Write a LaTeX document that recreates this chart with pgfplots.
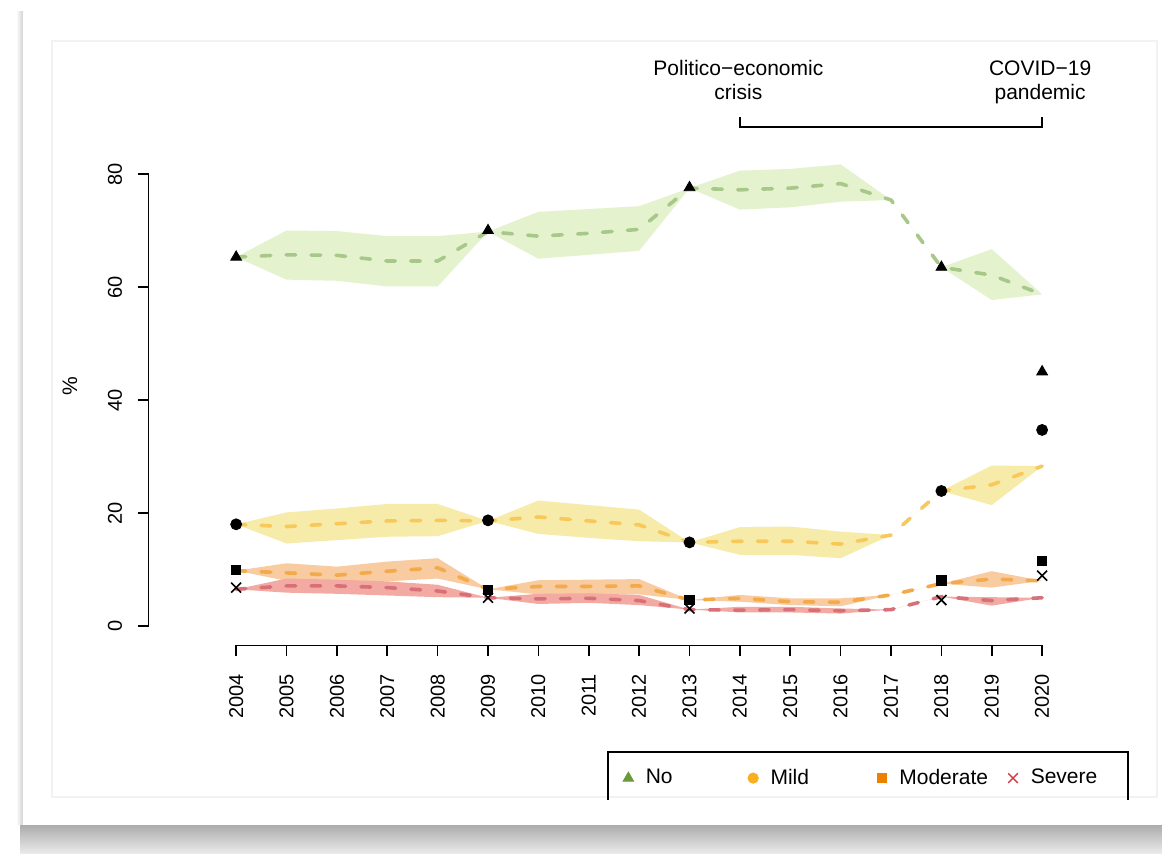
\documentclass[border=0pt]{standalone}
\usepackage{fontspec}
\setmainfont{Liberation Sans}
\usepackage{pgfplots}
\pgfplotsset{compat=1.18}
\usepackage{pgfplotstable}
\usepgfplotslibrary{fillbetween}

\definecolor{bandG}{RGB}{228,242,206}
\definecolor{bandY}{RGB}{247,235,170}
\definecolor{bandO}{RGB}{249,203,160}
\definecolor{bandR}{RGB}{243,170,162}
\definecolor{lineG}{RGB}{168,200,138}
\definecolor{lineY}{RGB}{248,200,90}
\definecolor{lineO}{RGB}{243,170,75}
\definecolor{lineR}{RGB}{215,112,120}
\definecolor{colG}{RGB}{107,154,60}
\definecolor{colY}{RGB}{250,176,30}
\definecolor{colO}{RGB}{238,128,0}
\definecolor{colR}{RGB}{210,60,70}

\pgfplotstableread{
year m lo hi
2004 65.3 65.3 65.3
2005 65.7 61.3 70.0
2006 65.6 61.1 69.9
2007 64.6 60.1 69.0
2008 64.6 60.1 69.0
2009 69.8 69.8 69.8
2010 69.0 65.0 73.3
2011 69.5 65.7 73.8
2012 70.2 66.4 74.3
2013 77.5 77.5 77.5
2014 77.2 73.7 80.6
2015 77.5 74.1 80.9
2016 78.3 75.1 81.7
2017 75.4 75.4 75.4
2018 63.5 63.5 63.5
2019 62.1 57.7 66.7
2020 58.7 58.7 58.7
}\tno

\pgfplotstableread{
year m lo hi
2004 18.0 18.0 18.0
2005 17.6 14.6 20.1
2006 18.1 15.2 20.8
2007 18.6 15.8 21.6
2008 18.7 15.9 21.6
2009 18.6 18.6 18.6
2010 19.3 16.3 22.2
2011 18.6 15.6 21.4
2012 17.9 15.0 20.6
2013 14.8 14.8 14.8
2014 15.0 12.6 17.5
2015 15.0 12.6 17.6
2016 14.5 12.0 16.7
2017 16.1 16.1 16.1
2018 23.9 23.9 23.9
2019 25.0 21.4 28.4
2020 28.3 28.3 28.3
}\tmild

\pgfplotstableread{
year m lo hi
2004 9.8 9.8 9.8
2005 9.4 8.0 11.1
2006 9.0 7.8 10.5
2007 9.7 7.9 11.4
2008 10.3 8.4 12.0
2009 6.5 6.5 6.5
2010 7.0 5.6 8.1
2011 7.0 5.6 8.2
2012 7.1 5.6 8.3
2013 4.6 4.6 4.6
2014 4.9 4.3 5.5
2015 4.3 3.7 4.9
2016 4.2 3.5 4.9
2017 5.5 5.5 5.5
2018 7.5 7.5 7.5
2019 8.3 6.8 9.7
2020 8.0 8.0 8.0
}\tmod

\pgfplotstableread{
year m lo hi
2004 6.5 6.5 6.5
2005 7.1 5.9 8.4
2006 7.1 5.7 8.2
2007 6.8 5.4 7.9
2008 6.2 5.1 7.3
2009 5.0 5.0 5.0
2010 4.8 3.9 5.7
2011 4.9 4.1 5.8
2012 4.5 3.7 5.5
2013 2.9 2.9 2.9
2014 2.8 2.4 3.4
2015 2.9 2.4 3.4
2016 2.7 2.2 3.1
2017 2.9 2.9 2.9
2018 5.2 5.2 5.2
2019 4.5 3.6 5.1
2020 5.0 5.0 5.0
}\tsev

\pgfplotstableread{
year no mild mod sev
2004 65.3 18.0 9.9 6.8
2009 70.0 18.7 6.4 5.0
2013 77.6 14.8 4.6 3.1
2018 63.5 23.9 8.1 4.6
2020 45.0 34.7 11.5 8.9
}\tpts

\tikzset{dashln/.style={line width=1.8pt, dash pattern=on 4.8pt off 7.7pt, line cap=round}}

\begin{document}
\fontsize{10.5}{12.5}\selectfont
\begin{tikzpicture}
% card and shadow
\shade[top color=gray!65, bottom color=gray!15] (10pt,-412.5pt) rectangle (581pt,-427pt);
\shade[left color=white, right color=gray!35] (8pt,-6pt) rectangle (11.5pt,-412.5pt);
\fill[white] (11.5pt,-6pt) rectangle (581pt,-412.5pt);
\draw[gray!10, line width=0.6pt] (26pt,-20.5pt) rectangle (578.5pt,-398.5pt);

\begin{axis}[
  scale only axis, width=472pt, height=280.95pt,
  at={(74.25pt,-322.75pt)}, anchor=south west,
  xmin=2002.26, xmax=2021, ymin=-3.45, ymax=96,
  clip=false,
  axis x line*=bottom, axis y line*=left,
  axis line style={draw=none},
  tick align=outside, major tick length=5.5pt,
  xtick={2004,...,2020}, ytick={0,20,...,80},
  ticklabel style={font=\fontsize{10}{12}\selectfont},
  xticklabel style={rotate=90, anchor=east, xshift=-5pt},
  yticklabel style={rotate=90, anchor=south, yshift=4pt},
  /pgf/number format/1000 sep={},
  /pgf/number format/assume math mode=true,
  legend columns=4,
  legend image code/.code={\path (-6pt,0pt) (8.5pt,0pt); \draw[#1] plot coordinates {(0pt,0pt)};},
  legend style={draw=none, fill=none, inner sep=0pt, outer sep=0pt,
    nodes={inner sep=0pt},
    /tikz/every even column/.append style={column sep=0pt},
    at={(0.4952,-0.236)}, anchor=west},
]
% bands
\addplot[draw=none, name path=nh, forget plot] table[x=year,y=hi]{\tno};
\addplot[draw=none, name path=nl, forget plot] table[x=year,y=lo]{\tno};
\addplot[fill=bandG, draw=none, forget plot] fill between[of=nh and nl, on layer=main];
\addplot[lineG, dashln, forget plot] table[x=year,y=m]{\tno};

\addplot[draw=none, name path=mh, forget plot] table[x=year,y=hi]{\tmild};
\addplot[draw=none, name path=ml, forget plot] table[x=year,y=lo]{\tmild};
\addplot[fill=bandY, draw=none, forget plot] fill between[of=mh and ml, on layer=main];
\addplot[lineY, dashln, forget plot] table[x=year,y=m]{\tmild};

\addplot[draw=none, name path=oh, forget plot] table[x=year,y=hi]{\tmod};
\addplot[draw=none, name path=ol, forget plot] table[x=year,y=lo]{\tmod};
\addplot[fill=bandO, draw=none, forget plot] fill between[of=oh and ol, on layer=main];
\addplot[lineO, dashln, forget plot] table[x=year,y=m]{\tmod};

\addplot[draw=none, name path=sh, forget plot] table[x=year,y=hi]{\tsev};
\addplot[draw=none, name path=sl, forget plot] table[x=year,y=lo]{\tsev};
\addplot[fill=bandR, draw=none, forget plot] fill between[of=sh and sl, on layer=main];
\addplot[lineR, dashln, forget plot] table[x=year,y=m]{\tsev};

% point estimates
\addplot[only marks, mark=triangle*, mark size=3.1pt, black, forget plot] table[x=year,y=no]{\tpts};
\addplot[only marks, mark=*, mark size=2.75pt, black, forget plot] table[x=year,y=mild]{\tpts};
\addplot[only marks, mark=square*, mark size=2.35pt, black, forget plot] table[x=year,y=mod]{\tpts};
\addplot[only marks, mark=x, mark size=3.5pt, black, line width=0.8pt, forget plot] table[x=year,y=sev]{\tpts};

% legend
\addlegendimage{mark=triangle*, mark size=3pt, colG}
\addlegendentry{\makebox[47.5pt][l]{No}}
\addlegendimage{mark=*, mark size=2.6pt, colY}
\addlegendentry{\makebox[49.5pt][l]{Mild}}
\addlegendimage{mark=square*, mark size=2.3pt, colO}
\addlegendentry{\makebox[50.5pt][l]{Moderate}}
\addlegendimage{mark=x, mark size=3.4pt, colR, line width=0.7pt}
\addlegendentry{Severe}

% axis lines and ticks (R style)
\draw[line width=0.9pt] (axis cs:2004,-3.45) -- (axis cs:2020,-3.45);
\draw[line width=0.9pt] (axis cs:2002.26,0) -- (axis cs:2002.26,80);
\pgfplotsinvokeforeach{2004,2005,2006,2007,2008,2009,2010,2011,2012,2013,2014,2015,2016,2017,2018,2019,2020}{
  \draw[line width=0.8pt] (axis cs:#1,-3.45) -- ++(0pt,-5.5pt);
}
\pgfplotsinvokeforeach{0,20,40,60,80}{
  \draw[line width=0.8pt] (axis cs:2002.26,#1) -- ++(-5.5pt,0pt);
}
\node[rotate=90] at (axis cs:2000.7,42.5) {\%};

% annotations
\node[anchor=base] at (axis cs:2013.97,97.5) {Politico−economic};
\node[anchor=base] at (axis cs:2013.97,93.1) {crisis};
\node[anchor=base] at (axis cs:2019.96,97.5) {COVID−19};
\node[anchor=base] at (axis cs:2019.96,93.1) {pandemic};
\draw[line width=0.7pt] (axis cs:2014,90.1) -- (axis cs:2014,88.3) -- (axis cs:2020,88.3) -- (axis cs:2020,90.1);
\end{axis}
% legend frame (cut at bottom)
\draw[line width=0.7pt] (304pt,-400pt) -- (304pt,-376pt) -- (564pt,-376pt) -- (564pt,-400pt);
\pgfresetboundingbox
\path[use as bounding box] (0,0) rectangle (581pt,-427pt);
\end{tikzpicture}
\end{document}
